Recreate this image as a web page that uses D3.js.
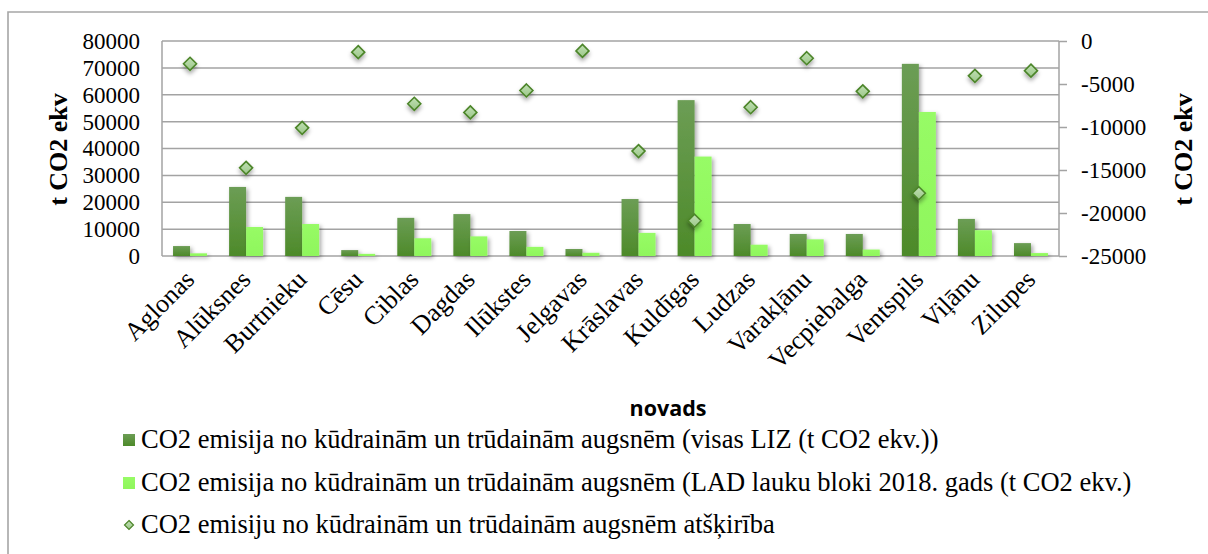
<!DOCTYPE html>
<html>
<head>
<meta charset="utf-8">
<script src="https://cdn.jsdelivr.net/npm/d3@7"></script>
<style>
  html, body { margin: 0; padding: 0; background: #fff; }
  svg { display: block; }
</style>
</head>
<body>
<svg id="chart" width="1208" height="554"></svg>
<script>
// Municipalities (novadi)
const categories = ["Aglonas", "Alūksnes", "Burtnieku", "Cēsu", "Ciblas", "Dagdas", "Ilūkstes", "Jelgavas",
  "Krāslavas", "Kuldīgas", "Ludzas", "Varakļānu", "Vecpiebalga", "Ventspils", "Viļānu", "Zilupes"];

// CO2 emissions from peat and organic soils, all agricultural land (t CO2 eq.)
const emissionsAll = [3700, 25700, 22000, 2200, 14200, 15600, 9300, 2600,
  21200, 58000, 11900, 8200, 8200, 71500, 13800, 4800];

// CO2 emissions from peat and organic soils, LAD field blocks 2018 (t CO2 eq.)
const emissionsLAD = [1000, 10800, 11900, 800, 6600, 7300, 3400, 1200,
  8600, 37000, 4200, 6200, 2400, 53600, 9600, 1100];

// Difference between the two (right axis)
const difference = [-2650, -14750, -10100, -1300, -7300, -8300, -5750, -1150,
  -12800, -20900, -7700, -2000, -5850, -17700, -4050, -3450];

const leftTicks = [0, 10000, 20000, 30000, 40000, 50000, 60000, 70000, 80000];
const rightTicks = [0, -5000, -10000, -15000, -20000, -25000];

const seriesNames = [
  "CO2 emisija no kūdrainām un trūdainām augsnēm (visas LIZ (t CO2 ekv.))",
  "CO2 emisija no kūdrainām un trūdainām augsnēm (LAD lauku bloki 2018. gads (t CO2 ekv.)",
  "CO2 emisiju no kūdrainām un trūdainām augsnēm atšķirība"
];
const axisTitle = "t CO2 ekv";
const xTitle = "novads";

const svg = d3.select("#chart");
const serif = "'Liberation Serif', 'Times New Roman', serif";
const sans = "'Open Sans', 'Liberation Sans', sans-serif";
const gridColor = "#a3a3a3";

const plot = { left: 162, right: 1059, top: 41, bottom: 256 };

// ---- defs: gradients and shadows ----
const defs = svg.append("defs");
const gDark = defs.append("linearGradient").attr("id", "darkGrad")
  .attr("x1", 0).attr("y1", 0).attr("x2", 0).attr("y2", 1);
gDark.append("stop").attr("offset", "0%").attr("stop-color", "#6c9d55");
gDark.append("stop").attr("offset", "100%").attr("stop-color", "#4d8a29");

const gLight = defs.append("linearGradient").attr("id", "lightGrad")
  .attr("x1", 0).attr("y1", 0).attr("x2", 0).attr("y2", 1);
gLight.append("stop").attr("offset", "0%").attr("stop-color", "#97fb66");
gLight.append("stop").attr("offset", "100%").attr("stop-color", "#8ff65c");

const gDiam = defs.append("linearGradient").attr("id", "diamGrad")
  .attr("x1", 0).attr("y1", 0).attr("x2", 0).attr("y2", 1);
gDiam.append("stop").attr("offset", "0%").attr("stop-color", "#c0e0b3");
gDiam.append("stop").attr("offset", "100%").attr("stop-color", "#9cc78a");

const shadow = defs.append("filter").attr("id", "shadow")
  .attr("x", "-30%").attr("y", "-30%").attr("width", "170%").attr("height", "170%");
shadow.append("feDropShadow").attr("dx", 2).attr("dy", 2).attr("stdDeviation", 2)
  .attr("flood-color", "#000").attr("flood-opacity", 0.35);

const shadowSoft = defs.append("filter").attr("id", "shadowSoft")
  .attr("x", "-60%").attr("y", "-60%").attr("width", "220%").attr("height", "240%");
shadowSoft.append("feDropShadow").attr("dx", 0).attr("dy", 3).attr("stdDeviation", 2)
  .attr("flood-color", "#000").attr("flood-opacity", 0.35);

// ---- outer frame ----
svg.append("path")
  .attr("d", "M8,554 V12 H1208")
  .attr("fill", "none").attr("stroke", "#a6a6a6").attr("stroke-width", 1.6);

// ---- scales ----
const x = d3.scaleBand().domain(categories).range([plot.left, plot.right]).padding(0);
const xInner = d3.scaleBand().domain([0, 1]).range([0, x.bandwidth()]).paddingInner(0).paddingOuter(0.65);
const yLeft = d3.scaleLinear().domain([0, 80000]).range([plot.bottom, plot.top]);
const yRight = d3.scaleLinear().domain([-25000, 0]).range([plot.bottom, plot.top]);

// ---- gridlines ----
svg.append("g").selectAll("line").data(leftTicks).join("line")
  .attr("x1", plot.left).attr("x2", plot.right)
  .attr("y1", d => yLeft(d)).attr("y2", d => yLeft(d))
  .attr("stroke", gridColor).attr("stroke-width", 1.5);

// plot area left edge
svg.append("line")
  .attr("x1", plot.left).attr("x2", plot.left)
  .attr("y1", plot.top).attr("y2", plot.bottom)
  .attr("stroke", gridColor).attr("stroke-width", 1.5);

// ---- bars ----
const barSeries = [emissionsAll, emissionsLAD];
const barFills = ["url(#darkGrad)", "url(#lightGrad)"];
barSeries.forEach((vals, si) => {
  svg.append("g").attr("filter", "url(#shadow)")
    .selectAll("rect").data(vals).join("rect")
    .attr("x", (d, i) => x(categories[i]) + xInner(si))
    .attr("width", xInner.bandwidth())
    .attr("y", d => yLeft(d))
    .attr("height", d => plot.bottom - yLeft(d))
    .attr("fill", barFills[si]);
});

// bottom axis line
svg.append("line")
  .attr("x1", plot.left).attr("x2", plot.right)
  .attr("y1", plot.bottom).attr("y2", plot.bottom)
  .attr("stroke", gridColor).attr("stroke-width", 1.5)
  .attr("filter", "url(#shadowSoft)");

// ---- left axis ----
const leftAxis = d3.axisLeft(yLeft).tickValues(leftTicks).tickSize(0).tickPadding(22)
  .tickFormat(d3.format("d"));
const gl = svg.append("g").attr("transform", `translate(${plot.left},0)`).call(leftAxis);
gl.select(".domain").remove();
gl.selectAll("text").attr("font-family", serif).attr("font-size", 23).attr("fill", "#000");

// ---- right axis ----
const rightAxis = d3.axisRight(yRight).tickValues(rightTicks).tickSize(8).tickPadding(14)
  .tickFormat(d => d3.format("d")(d).replace("−", "-"));
const gr = svg.append("g").attr("transform", `translate(${plot.right},0)`).call(rightAxis);
gr.select(".domain").attr("stroke", gridColor).attr("stroke-width", 1.5).attr("d", `M0,${plot.top}V${plot.bottom}`);
gr.selectAll(".tick line").attr("stroke", gridColor).attr("stroke-width", 1.5);
gr.selectAll("text").attr("font-family", serif).attr("font-size", 23).attr("fill", "#000");

// ---- diamonds (difference, right axis) ----
const dr = 6.5;
svg.append("g").attr("filter", "url(#shadowSoft)")
  .selectAll("path").data(difference).join("path")
  .attr("transform", (d, i) => `translate(${x(categories[i]) + x.bandwidth() / 2},${yRight(d)})`)
  .attr("d", `M0,${-dr}L${dr},0L0,${dr}L${-dr},0Z`)
  .attr("fill", "url(#diamGrad)")
  .attr("stroke", "#4c8529").attr("stroke-width", 1.6);

// ---- category labels ----
svg.append("g").selectAll("text").data(categories).join("text")
  .attr("transform", d => `translate(${x(d) + x.bandwidth() / 2 + 6},${plot.bottom + 25}) rotate(-45)`)
  .attr("text-anchor", "end")
  .attr("font-family", serif).attr("font-size", 26).attr("fill", "#000")
  .text(d => d);

// ---- axis titles ----
svg.append("text")
  .attr("transform", `translate(67,${(plot.top + plot.bottom) / 2 + 1}) rotate(-90)`)
  .attr("text-anchor", "middle")
  .attr("font-family", serif).attr("font-size", 26).attr("font-weight", "bold")
  .text(axisTitle);

svg.append("text")
  .attr("transform", `translate(1192,${(plot.top + plot.bottom) / 2 + 1}) rotate(-90)`)
  .attr("text-anchor", "middle")
  .attr("font-family", serif).attr("font-size", 26).attr("font-weight", "bold")
  .text(axisTitle);

svg.append("text")
  .attr("x", 668).attr("y", 416)
  .attr("text-anchor", "middle")
  .attr("font-family", sans).attr("font-size", 21.5).attr("font-weight", "bold")
  .text(xTitle);

// ---- legend ----
const legendRows = [448, 491, 533];
const leg = svg.append("g");
seriesNames.forEach((name, i) => {
  const cy = legendRows[i] - 8;
  if (i < 2) {
    leg.append("rect").attr("x", 123).attr("y", cy - 6).attr("width", 12).attr("height", 12)
      .attr("fill", barFills[i]);
  } else {
    const r = 4.5;
    leg.append("path")
      .attr("transform", `translate(129,${cy})`)
      .attr("d", `M0,${-r}L${r},0L0,${r}L${-r},0Z`)
      .attr("fill", "url(#diamGrad)").attr("stroke", "#4c8529").attr("stroke-width", 1.2);
  }
  leg.append("text").attr("x", 141).attr("y", legendRows[i])
    .attr("font-family", serif).attr("font-size", 26.5).attr("fill", "#000")
    .text(name);
});
</script>
</body>
</html>
